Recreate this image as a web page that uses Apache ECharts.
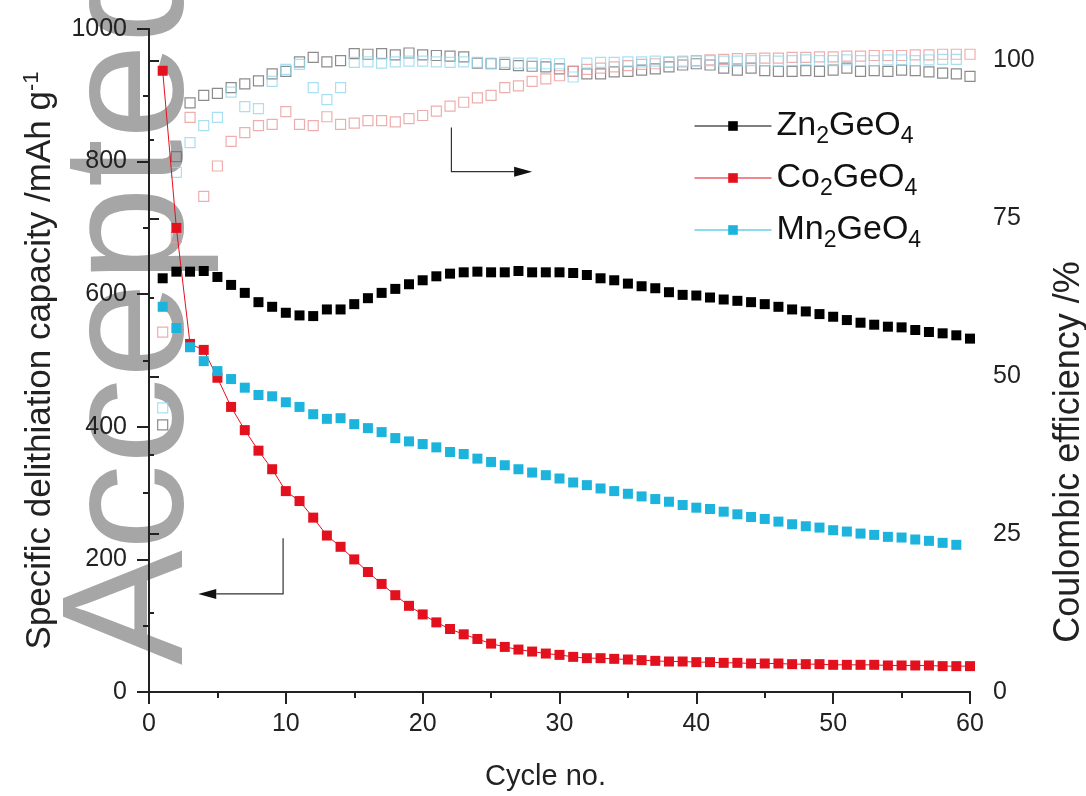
<!DOCTYPE html>
<html>
<head>
<meta charset="utf-8">
<script src="https://cdn.jsdelivr.net/npm/echarts@6/dist/echarts.min.js"></script>
<style>
  html, body { margin: 0; padding: 0; background: #fff; }
  #chart { width: 1086px; height: 796px; }
</style>
</head>
<body>
<div id="chart"></div>
<script>
// cycle numbers
const cycles = [1,2,3,4,5,6,7,8,9,10,11,12,13,14,15,16,17,18,19,20,
  21,22,23,24,25,26,27,28,29,30,31,32,33,34,35,36,37,38,39,40,
  41,42,43,44,45,46,47,48,49,50,51,52,53,54,55,56,57,58,59,60];

// delithiation capacity, mAh/g (left axis)
const znCapacity = [624,634,634,635,626,614,602,588,581,572,
  568,567,577,577,585,594,602,608,615,621,
  627,631,633,634,633,633,635,633,633,633,
  632,629,624,621,616,612,609,603,599,598,
  595,592,590,588,585,581,577,574,570,566,
  561,557,554,551,550,546,543,541,538,533];
const coCapacity = [937,700,525,516,474,430,395,364,336,303,
  288,263,236,219,200,181,163,146,130,117,
  105,95,87,80,73,68,64,61,58,56,
  53,51,51,50,49,48,47,46,46,45,
  45,44,44,43,43,43,42,42,42,41,
  41,41,41,40,40,40,40,39,39,39];
const mnCapacity = [581,549,520,499,484,472,459,448,446,437,
  430,419,412,413,404,398,392,383,378,374,
  369,362,359,352,347,342,336,331,327,322,
  316,312,307,303,299,295,291,287,282,278,
  276,272,268,264,261,257,253,250,248,244,
  242,239,237,234,233,230,228,225,222];

// coulombic efficiency, % (right axis)
const znCE = [42.3,84.8,93.3,94.5,94.8,95.7,96.3,96.8,97.9,98.3,
  99.8,100.5,99.8,100.0,101.1,101.0,101.1,100.9,101.2,100.9,
  100.8,100.7,100.6,99.6,99.5,99.4,99.2,99.1,99.0,98.7,
  98.3,97.9,97.9,98.2,98.3,98.5,98.7,99.0,99.3,99.5,
  99.3,98.8,98.5,98.8,98.4,98.3,98.3,98.4,98.3,98.5,
  98.8,98.3,98.4,98.3,98.5,98.4,98.2,98.0,97.9,97.5];
const coCE = [57,72,91,78.5,83.3,87.2,88.6,89.7,89.9,91.9,
  89.9,89.7,91.1,89.9,90.1,90.5,90.5,90.3,90.8,91.3,
  92.0,92.8,93.4,94.1,94.5,95.7,96.0,96.7,97.1,97.6,
  98.3,98.6,98.8,99.0,99.2,99.4,99.5,99.7,99.8,100.0,
  100.1,100.2,100.3,100.3,100.4,100.4,100.5,100.5,100.6,100.6,
  100.7,100.7,100.8,100.8,100.8,100.9,100.9,101.0,101.0,101.0];
const mnCE = [45,82.3,87,89.7,91,95,92.7,92.4,96.7,98.6,
  99.4,95.7,93.8,95.7,99.7,99.8,99.6,99.8,99.9,99.9,
  99.8,99.7,99.8,99.7,99.6,99.7,99.6,99.6,99.5,99.5,
  97.4,99.6,99.7,99.7,99.8,99.8,99.9,99.8,99.9,99.9,
  100,99.9,99.9,100,100,99.9,100,100.1,100,100,
  100.1,100,100,100.1,100.1,100,100.1,100.2,100.2];

const seriesNames = ['Zn2GeO4', 'Co2GeO4', 'Mn2GeO4'];
const xTicks = [0, 60, 10];
const capTicks = [0, 1000, 200];
const ceTickValues = [0, 25, 50, 75, 100];

// annotation arrows, in data units: [cycle, value]
const capArrow = [[9.8, 232], [9.8, 148], [3.6, 148]];
const ceArrow = [[22.1, 89.4], [22.1, 82.4], [28.0, 82.4]];

const FONT = '"Liberation Sans", Arial, Helvetica, sans-serif';
const INK = '#222';

function pairs(ys) {
  return ys.map((y, i) => [cycles[i], y]);
}

function legendLabel(name) {
  // Zn2GeO4 -> Zn{2}GeO{4}
  const m = name.match(/^([A-Za-z]+)(\d)([A-Za-z]+)(\d)$/);
  return '{n|' + m[1] + '}{s|' + m[2] + '}{n|' + m[3] + '}{s|' + m[4] + '}';
}

const chart = echarts.init(document.getElementById('chart'), null, { renderer: 'canvas' });

const axisLine = { show: true, lineStyle: { color: INK, width: 2 } };

const capSeries = (name, ys, color, lineVisible) => ({
  name: name,
  type: 'line',
  xAxisIndex: 0,
  yAxisIndex: 0,
  data: pairs(ys),
  symbol: 'rect',
  symbolSize: 10,
  showAllSymbol: true,
  itemStyle: { color: color },
  lineStyle: { color: color, width: 1, opacity: lineVisible ? 1 : 0 },
  emphasis: { disabled: true },
  z: 4
});

const ceSeries = (name, ys, color) => ({
  name: name + ' CE',
  type: 'scatter',
  xAxisIndex: 0,
  yAxisIndex: 1,
  data: pairs(ys),
  symbol: 'rect',
  symbolSize: 10,
  itemStyle: { color: 'rgba(255,255,255,0)', borderColor: color, borderWidth: 1.2 },
  emphasis: { disabled: true },
  z: 3
});

const option = {
  animation: false,
  backgroundColor: '#fff',
  textStyle: { fontFamily: FONT },
  grid: { left: 149, right: 116, top: 29, bottom: 104 },
  legend: {
    data: [
      { name: seriesNames[0], lineStyle: { opacity: 1, width: 1 } },
      { name: seriesNames[1], lineStyle: { opacity: 1, width: 1 } },
      { name: seriesNames[2], lineStyle: { opacity: 1, width: 1 } }
    ],
    orient: 'vertical',
    left: 689,
    top: 99,
    itemWidth: 77,
    itemHeight: 12,
    itemGap: 8,
    selectedMode: false,
    formatter: legendLabel,
    textStyle: {
      color: '#111',
      rich: {
        n: { fontSize: 34, lineHeight: 34, color: '#111', fontFamily: FONT },
        s: { fontSize: 23, lineHeight: 23, color: '#111', fontFamily: FONT, padding: [21, 0, 0, 0] }
      }
    }
  },
  xAxis: [
    {
      type: 'value',
      position: 'bottom',
      min: xTicks[0], max: xTicks[1], interval: xTicks[2],
      name: 'Cycle no.',
      nameLocation: 'middle',
      nameGap: 70,
      nameTextStyle: { fontSize: 29, color: INK, fontFamily: FONT, padding: [0, 28, 0, 0] },
      axisLine: axisLine,
      axisTick: { show: true, inside: false, length: 12, lineStyle: { color: INK, width: 2 } },
      minorTick: { show: true, splitNumber: 2, length: 6, lineStyle: { color: INK, width: 2 } },
      axisLabel: { fontSize: 25, color: INK, margin: 20, fontFamily: FONT },
      splitLine: { show: false }
    },
    {
      type: 'value',
      position: 'top',
      min: xTicks[0], max: xTicks[1], interval: xTicks[2],
      axisLine: axisLine,
      axisTick: { show: true, inside: true, length: 12, lineStyle: { color: INK, width: 2 } },
      minorTick: { show: true, splitNumber: 2, length: 6, lineStyle: { color: INK, width: 2 } },
      axisLabel: { show: false },
      splitLine: { show: false }
    }
  ],
  yAxis: [
    {
      type: 'value',
      position: 'left',
      min: capTicks[0], max: capTicks[1], interval: capTicks[2],
      name: '{t|Specific delithiation capacity /mAh g}{sup|-1}',
      nameLocation: 'middle',
      nameRotate: 90,
      nameGap: 90,
      nameTextStyle: {
        color: INK,
        rich: {
          t: { fontSize: 35, lineHeight: 35, color: INK, fontFamily: FONT },
          sup: { fontSize: 22, lineHeight: 22, color: INK, fontFamily: FONT, padding: [0, 0, 18, 0] }
        }
      },
      axisLine: axisLine,
      axisTick: { show: true, inside: false, length: 12, lineStyle: { color: INK, width: 2 } },
      minorTick: { show: true, splitNumber: 2, length: 6, lineStyle: { color: INK, width: 2 } },
      axisLabel: { fontSize: 25, color: INK, margin: 22, fontFamily: FONT, formatter: v => String(v) },
      splitLine: { show: false }
    },
    {
      type: 'value',
      position: 'right',
      min: 0, max: 105, interval: 25,
      axisLine: axisLine,
      axisTick: { show: true, inside: false, length: 10, customValues: ceTickValues, lineStyle: { color: INK, width: 2 } },
      minorTick: { show: true, splitNumber: 2, length: 5, lineStyle: { color: INK, width: 2 } },
      axisLabel: { fontSize: 25, color: INK, margin: 23, fontFamily: FONT, customValues: ceTickValues },
      splitLine: { show: false }
    }
  ],
  series: [
    ceSeries(seriesNames[0], znCE, '#6e6e6e'),
    ceSeries(seriesNames[1], coCE, '#ea9a9a'),
    ceSeries(seriesNames[2], mnCE, '#93d8ee'),
    capSeries(seriesNames[0], znCapacity, '#000000', false),
    capSeries(seriesNames[1], coCapacity, '#e3101e', true),
    capSeries(seriesNames[2], mnCapacity, '#1cb3dc', false)
  ]
};

chart.setOption(option);

// arrows and text that sit on top of / behind the plot
function arrowElements(pointsData, yAxisIndex) {
  const pts = pointsData.map(p => chart.convertToPixel({ xAxisIndex: 0, yAxisIndex: yAxisIndex }, p));
  const tip = pts[pts.length - 1];
  const prev = pts[pts.length - 2];
  const dx = tip[0] - prev[0], dy = tip[1] - prev[1];
  const len = Math.sqrt(dx * dx + dy * dy);
  const ux = dx / len, uy = dy / len;
  const headLen = 18, half = 5;
  const bx = tip[0] - ux * headLen, by = tip[1] - uy * headLen;
  const shaft = pts.slice(0, -1).concat([[bx, by]]);
  return [
    { type: 'polyline', z: 10, shape: { points: shaft }, style: { stroke: '#333', lineWidth: 1.2, fill: null } },
    { type: 'polygon', z: 10, shape: { points: [tip, [bx - uy * half, by + ux * half], [bx + uy * half, by - ux * half]] }, style: { fill: '#111' } }
  ];
}

chart.setOption({
  graphic: {
    elements: [
      {
        type: 'text',
        z: -10,
        x: 221,
        y: 665,
        rotation: Math.PI / 2,
        silent: true,
        style: {
          text: 'Accepted',
          fontSize: 172,
          fontFamily: FONT,
          fill: '#a6a6a6',
          align: 'left',
          verticalAlign: 'bottom'
        }
      },
      {
        type: 'text',
        x: 1069,
        y: 452,
        rotation: Math.PI / 2,
        silent: true,
        style: {
          text: 'Coulombic efficiency /%',
          fontSize: 36,
          fontFamily: FONT,
          fill: INK,
          align: 'center',
          verticalAlign: 'middle'
        }
      }
    ].concat(arrowElements(capArrow, 0), arrowElements(ceArrow, 1))
  }
});
</script>
</body>
</html>
